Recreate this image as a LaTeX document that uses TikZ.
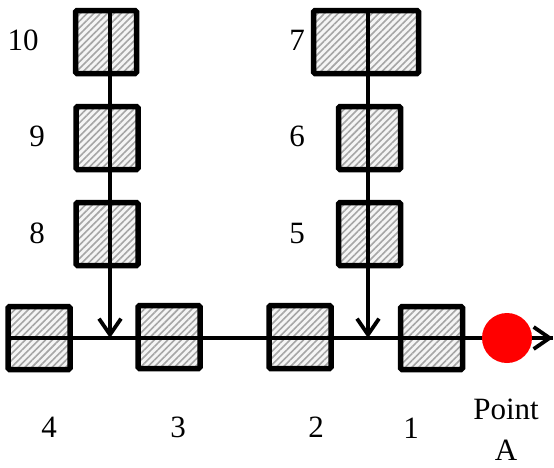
\documentclass[tikz,border=0pt]{standalone}
\usepackage{fontspec}
\setmainfont{Liberation Serif}
\usetikzlibrary{patterns.meta,arrows.meta}
\begin{document}
\begin{tikzpicture}[x=1pt,y=-1pt,
  box/.style={draw=black, line width=5.5pt, rounded corners=1.5pt, inner sep=0pt, outer sep=0pt,
    minimum width=62pt, minimum height=63pt,
    preaction={fill=gray!8},
    pattern={Lines[angle=45,distance=4.8pt,line width=1.6pt]}, pattern color=gray!70},
  conn/.style={line width=3.8pt, draw=black},
  tip/.style={-{Straight Barb[length=16pt,width=22pt]}},
  lbl/.style={font=\fontsize{31}{41}\selectfont, inner sep=0pt}]
\useasboundingbox (0,0) rectangle (554,467);
% boxes
\node[box, minimum width=61pt] (b10) at (106,42) {};
\node[box] (b9) at (107,138) {};
\node[box] (b8) at (107,234) {};
\node[box, minimum width=105pt] (b7) at (366,42) {};
\node[box] (b6) at (369.5,138) {};
\node[box] (b5) at (369.5,234) {};
\node[box] (b4) at (39,338) {};
\node[box] (b3) at (169,337) {};
\node[box] (b2) at (300,337) {};
\node[box] (b1) at (431.5,338) {};
% junctions
\coordinate (jL) at (110,338);
\coordinate (jR) at (368,338);
\coordinate (tipA) at (553,338);
% connectors
\draw[conn] (b4.west |- jL) -- (tipA);
\draw[conn,tip] (b10.north -| jL) -- (jL);
\draw[conn,tip] (b7.north -| jR) -- (jR);
\draw[conn,tip] (b1.east |- jL) -- (tipA);
% point A
\node[circle, fill=red, inner sep=0pt, minimum size=50pt] (A) at (507,338) {};
% labels
\node[lbl] (l10) at (23,40) {10};
\node[lbl] (l9) at (37,136) {9};
\node[lbl] (l8) at (37,233) {8};
\node[lbl] (l7) at (297,40) {7};
\node[lbl] (l6) at (297,136) {6};
\node[lbl] (l5) at (297,233) {5};
\node[lbl] (l4) at (49,427) {4};
\node[lbl] (l3) at (178,427) {3};
\node[lbl] (l2) at (316,427) {2};
\node[lbl] (l1) at (411,428) {1};
\node[lbl, align=center, anchor=north] (lA) at (506,399) {Point\\A};
\end{tikzpicture}
\end{document}
